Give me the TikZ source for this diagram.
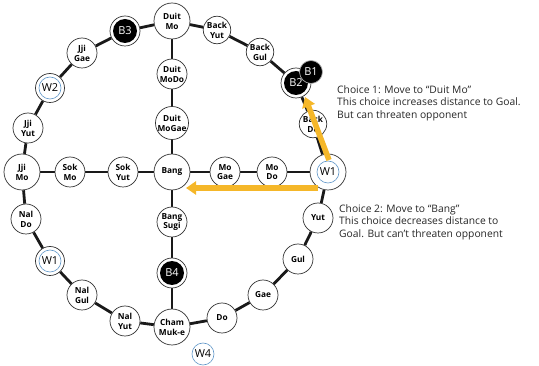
\documentclass[tikz,border=0pt]{standalone}
\usepackage{fontspec}
\setmainfont{Open Sans}
\usetikzlibrary{arrows.meta,backgrounds}
\definecolor{arrowc}{RGB}{245,183,41}
\definecolor{wblue}{RGB}{95,150,200}
\begin{document}
\begin{tikzpicture}[x=1pt,y=-1pt,
 spot/.style={circle,draw=black!80,line width=0.7pt,fill=white,inner sep=0pt,minimum size=30pt,align=center,font=\fontsize{8.3}{9.8}\selectfont\bfseries},
 smallspot/.style={spot,minimum size=27.5pt},
 bigspot/.style={spot,minimum size=36pt},
 wpiece/.style={circle,draw=black!80,line width=0.7pt,fill=white,inner sep=0pt,minimum size=29pt,font=\fontsize{11}{12}\selectfont,
   path picture={\draw[wblue,line width=0.6pt] (path picture bounding box.center) circle (11pt);}},
 wbig/.style={wpiece,minimum size=36pt},
 bpiece/.style={circle,draw=black!80,line width=0.7pt,fill=white,inner sep=0pt,minimum size=30pt,text=white,font=\fontsize{11}{12}\selectfont,
   path picture={\fill[black] (path picture bounding box.center) circle (12pt);}},
 bsolo/.style={circle,draw=gray!60,line width=0.7pt,fill=black,inner sep=0pt,minimum size=23pt,text=white,font=\fontsize{11}{12}\selectfont},
 wsolo/.style={circle,draw=wblue,line width=0.6pt,fill=white,inner sep=0pt,minimum size=22pt,font=\fontsize{11}{12}\selectfont},
 link/.style={line width=2.8pt,black!90},
 choice/.style={line width=5.5pt,arrowc,-{Triangle[width=13pt,length=10pt]}},
 note/.style={anchor=west,align=left,inner sep=0pt,font=\fontsize{10.3}{12.6}\selectfont,text=black!85}
]
\useasboundingbox (0,0) rectangle (539,366);
% outer ring
\node[bigspot] (dm) at (172,21) {Duit\\Mo};
\node[smallspot] (by) at (217,30) {Back\\Yut};
\node[smallspot] (bg) at (260,52) {Back\\Gul};
\node[bpiece] (b2) at (296,83) {B2};
\node[bsolo] (b1) at (311,72) {B1};
\node[smallspot] (bd) at (313,124) {Back\\Do};
\node[wbig] (w1r) at (328,172) {W1};
\node[spot] (yut) at (318,218) {Yut};
\node[spot] (gul) at (298,259) {Gul};
\node[spot] (gae) at (263,295) {Gae};
\node[spot] (do) at (222,318) {Do};
\node[bigspot] (cm) at (172,327) {Cham\\Muk-e};
\node[spot] (ny) at (125,321) {Nal\\Yut};
\node[spot] (ng) at (82,295) {Nal\\Gul};
\node[wpiece] (w1l) at (50,261) {W1};
\node[spot] (nd) at (26,219) {Nal\\Do};
\node[bigspot] (jm) at (22,172) {Jji\\Mo};
\node[spot] (jy) at (28,128) {Jji\\Yut};
\node[wpiece] (w2) at (50,88) {W2};
\node[spot] (jg) at (82,53) {Jji\\Gae};
\node[bpiece] (b3) at (125,31) {B3};
% cross
\node[spot] (dmd) at (172,74) {Duit\\MoDo};
\node[spot] (dmg) at (172,123) {Duit\\MoGae};
\node[bigspot] (bang) at (172,172) {Bang};
\node[spot] (bs) at (172,222) {Bang\\Sugi};
\node[bpiece] (b4) at (172,273) {B4};
\node[spot] (mg) at (225,172) {Mo\\Gae};
\node[spot] (mdo) at (272,172) {Mo\\Do};
\node[spot] (sy) at (123,172) {Sok\\Yut};
\node[spot] (sm) at (70,172) {Sok\\Mo};
\node[wsolo] (w4) at (203,354) {W4};
\begin{pgfonlayer}{background}
\draw[link] (dm) -- (by) -- (bg) -- (b2) -- (bd) -- (w1r) -- (yut) -- (gul) -- (gae) -- (do) -- (cm) -- (ny) -- (ng) -- (w1l) -- (nd) -- (jm) -- (jy) -- (w2) -- (jg) -- (b3) -- (dm);
\draw[link] (dm) -- (dmd) -- (dmg) -- (bang) -- (bs) -- (b4) -- (cm);
\draw[link] (jm) -- (sm) -- (sy) -- (bang) -- (mg) -- (mdo) -- (w1r);
\end{pgfonlayer}
% choices
\coordinate (c1s) at (329,160);
\coordinate (c1e) at (305,97);
\coordinate (c2s) at (318,188);
\coordinate (c2e) at (186,188);
\draw[choice] (c1s) -- (c1e);
\draw[choice] (c2s) -- (c2e);
\node[note] (n1) at (337,103) {Choice 1: Move to “Duit Mo”\\This choice increases distance to Goal.\\But can threaten opponent};
\node[note] (n2) at (339,222) {Choice 2: Move to “Bang”\\This choice decreases distance to\\Goal. But can’t threaten opponent};
\end{tikzpicture}
\end{document}
